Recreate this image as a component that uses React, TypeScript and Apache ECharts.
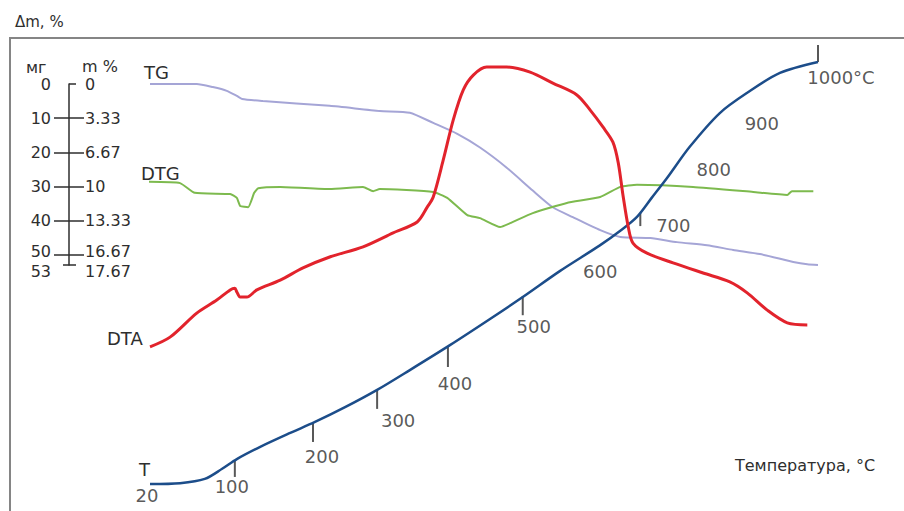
import React, { useEffect, useRef } from "react";
import * as echarts from "echarts";

// ---- Thermogram data (time axis in minutes, 0..100) ----

// TG: mass loss, mg
const TG_TIME = [0, 7.0, 9.4, 11.5, 13.0, 13.8, 16.9, 26.9, 34.4, 38.9, 42.4, 46.0, 49.4, 53.4, 57.3, 60.3, 63.3, 67.4, 70.4, 74.9, 78.9, 83.4, 87.3, 91.3, 96.3, 98.4, 100];
const TG_LOSS_MG = [0, 0, 0.9, 2.0, 3.5, 4.4, 5.0, 6.4, 7.9, 8.4, 11.4, 14.6, 18.6, 24.5, 31.2, 36.1, 39.0, 42.8, 44.8, 45.1, 46.3, 47.2, 48.6, 49.8, 52.1, 52.8, 53];

// DTG: recorder deflection, relative units
const DTG_TIME = [-0.4, 4.5, 6.7, 12.0, 13.0, 13.5, 14.7, 15.6, 16.2, 19.5, 26.9, 31.9, 33.4, 34.4, 42.4, 44.5, 47.5, 49.4, 52.4, 53.9, 57.3, 62.4, 67.4, 70.4, 72.9, 81.3, 90.3, 95.4, 96.1, 99.3];
const DTG_LEVEL = [71.6, 71.3, 69.0, 68.7, 67.8, 65.9, 65.6, 69.0, 70.1, 70.4, 69.9, 70.4, 69.4, 69.9, 69.2, 67.8, 63.7, 63.0, 60.9, 61.8, 64.2, 66.6, 68.0, 70.4, 70.9, 70.4, 69.2, 68.5, 69.4, 69.4];

// DTA: recorder deflection, relative units
const DTA_TIME = [0, 3.0, 7.0, 10.0, 12.0, 12.7, 13.0, 13.5, 14.5, 16.0, 19.5, 22.9, 26.9, 31.9, 36.4, 40.0, 41.5, 42.4, 43.9, 45.4, 46.9, 48.4, 50.4, 53.4, 56.9, 60.3, 63.9, 65.9, 67.8, 69.3, 70.1, 70.8, 71.6, 72.3, 74.4, 78.3, 82.8, 86.8, 89.4, 92.4, 95.4, 98.4];
const DTA_LEVEL = [32.5, 34.8, 40.5, 43.6, 46.0, 46.4, 45.5, 44.3, 44.3, 46.0, 48.3, 51.2, 53.8, 56.2, 59.5, 62.1, 65.6, 68.0, 76.8, 86.3, 93.4, 96.9, 98.8, 98.8, 97.6, 95.0, 92.2, 88.6, 84.6, 81.0, 76.1, 68.5, 60.9, 57.1, 54.7, 52.4, 50.0, 47.9, 45.3, 41.2, 38.2, 37.7];

// T: temperature curve, recorder deflection
const T_TIME = [0, 4.5, 8.2, 10.8, 13.0, 16.5, 21.0, 24.7, 29.2, 34.0, 38.9, 44.9, 50.9, 55.8, 61.4, 67.4, 70.4, 72.9, 75.1, 77.4, 80.8, 85.3, 89.4, 94.3, 100];
const T_LEVEL = [0, 0.2, 1.2, 3.6, 5.9, 8.8, 12.1, 14.7, 18.2, 22.3, 27.0, 32.9, 39.1, 44.3, 50.5, 56.6, 60.0, 63.3, 67.8, 72.5, 79.9, 87.9, 92.7, 97.4, 100];

// Temperature marks along the T curve, °C
const T_MARK_TEMP = [20, 100, 200, 300, 400, 500, 600, 700, 800, 900, 1000];
const T_MARK_TIME = [0, 12.7, 24.4, 34.0, 44.6, 55.8, 68.3, 73.4, 78.7, 86.5, 100];
const T_MARK_LEVEL = [0, 5.7, 14.7, 22.3, 32.7, 44.5, 57.6, 64.2, 76.1, 89.3, 100];

// Mass scale: mg and % of a 300 mg sample
const MASS_STEP_MG = [0, 10, 20, 30, 40];
const MASS_LAST_STEP_MG = 50;
const MASS_CROSS_TICKS_MG = [10, 20, 30, 40, 50];
const MASS_FULL_MG = 53;
const SAMPLE_MG = 300;

// ---- Layout / style ----
const FONT = "DejaVu Sans";
const INK = "#2e2e2e";
const PLOT_LEFT = 150;
const PLOT_WIDTH = 668;
const MARK_TICK_LEN = [0, 17, 20, 19, 21, 19, 0, 13, 0, 0, -17];
const MARK_LABEL_OFFSET = [[-3, 11], [-3, 27], [9, 35], [21, 31], [7, 37], [11, 30], [-6, 31], [33, 12], [38, 7], [34, 16], [23, 15]];

const zip = (a: number[], b: number[]) => a.map((v, i) => [v, b[i]]);

const pct = (mg: number) => {
  const p = (mg / SAMPLE_MG) * 100;
  const r = Math.round(p * 100) / 100;
  return Number.isInteger(r) ? String(r) : r.toFixed(2);
};

const text = (t: string, x: number, y: number, size = 15, align = "left") => ({
  type: "text",
  x,
  y,
  silent: true,
  style: { text: t, fill: INK, fontSize: size, fontFamily: FONT, align, verticalAlign: "middle" },
});

const axisLineStyle = { color: INK, width: 1.5 };

// One layer of the mass scale; all layers share the same position and range.
const massAxis = (tick: any, label: any, showLine = false) => ({
  gridIndex: 1,
  type: "value",
  min: 0,
  max: MASS_FULL_MG,
  inverse: true,
  position: "left",
  offset: 81,
  splitLine: { show: false },
  axisLine: { show: showLine, onZero: false, lineStyle: axisLineStyle },
  axisTick: tick ? { show: true, lineStyle: axisLineStyle, ...tick } : { show: false },
  axisLabel: label
    ? {
        show: true,
        showMinLabel: true,
        showMaxLabel: true,
        color: INK,
        fontSize: 16,
        fontFamily: FONT,
        ...label,
      }
    : { show: false },
});

function buildOption(): any {
  const maxTemp = Math.max(...T_MARK_TEMP);
  const tickData = T_MARK_TEMP.map((_, i) => ({ i, len: MARK_TICK_LEN[i] }))
    .filter((d) => d.len !== 0)
    .map(({ i, len }) => ({
      value: [T_MARK_TIME[i], T_MARK_LEVEL[i]],
      symbol: "rect",
      symbolSize: [2, Math.abs(len)],
      symbolOffset: [0, len / 2],
    }));
  const labelData = T_MARK_TEMP.map((temp, i) => ({
    value: [T_MARK_TIME[i], T_MARK_LEVEL[i], temp],
    label: { offset: MARK_LABEL_OFFSET[i] },
  }));

  const mgText = (v: number) => String(v);
  const outside = { margin: 18, formatter: mgText };
  const inside = { inside: true, margin: 16, formatter: pct };
  // the 50 and 53 marks are close together: lift one text, drop the other
  const lifted = { verticalAlign: "bottom", lineHeight: 6 };
  const dropped = { verticalAlign: "top", lineHeight: 12 };

  return {
    animation: false,
    backgroundColor: "#ffffff",
    grid: [
      { left: PLOT_LEFT, width: PLOT_WIDTH, top: 62, height: 422 },
      { left: PLOT_LEFT, width: PLOT_WIDTH, top: 84, height: 181 },
    ],
    xAxis: [
      { gridIndex: 0, type: "value", min: 0, max: 100, show: false },
      { gridIndex: 1, type: "value", min: 0, max: 100, show: false },
    ],
    yAxis: [
      { gridIndex: 0, type: "value", min: 0, max: 100, show: false },
      // mg side (left) with the scale line
      massAxis({ customValues: MASS_CROSS_TICKS_MG, length: 15 }, { customValues: MASS_STEP_MG, ...outside }, true),
      // % side (right)
      massAxis({ customValues: MASS_CROSS_TICKS_MG, length: 15, inside: true }, { customValues: MASS_STEP_MG, ...inside }),
      // 50 mg mark texts
      massAxis(null, { customValues: [MASS_LAST_STEP_MG], ...outside, ...lifted }),
      massAxis(null, { customValues: [MASS_LAST_STEP_MG], ...inside, ...lifted }),
      // short end ticks and full-scale texts
      massAxis({ customValues: [0, MASS_FULL_MG], length: 7, inside: true }, { customValues: [MASS_FULL_MG], ...inside, ...dropped }),
      massAxis({ customValues: [MASS_FULL_MG], length: 6 }, { customValues: [MASS_FULL_MG], ...outside, ...dropped }),
    ],
    graphic: [
      {
        type: "rect",
        silent: true,
        shape: { x: 10, y: 38, width: 1000, height: 600 },
        style: { fill: "none", stroke: "#858585", lineWidth: 2 },
      },
      text("Δm, %", 15, 22, 15),
      text("мг", 26, 67, 16),
      text("m %", 82, 66, 16),
      text("TG", 144, 72, 18),
      text("DTG", 141, 173, 18),
      text("DTA", 107, 338, 18),
      text("T", 139, 469, 18),
      text("Температура, °C", 735, 465, 16),
    ],
    series: [
      {
        type: "line",
        name: "TG",
        xAxisIndex: 1,
        yAxisIndex: 1,
        data: zip(TG_TIME, TG_LOSS_MG),
        symbol: "none",
        smooth: 0.2,
        clip: false,
        lineStyle: { color: "#a5a5d6", width: 2 },
        silent: true,
      },
      {
        type: "line",
        name: "DTG",
        xAxisIndex: 0,
        yAxisIndex: 0,
        data: zip(DTG_TIME, DTG_LEVEL),
        symbol: "none",
        smooth: 0.15,
        clip: false,
        lineStyle: { color: "#7dba4e", width: 2 },
        silent: true,
      },
      {
        type: "line",
        name: "T",
        xAxisIndex: 0,
        yAxisIndex: 0,
        data: zip(T_TIME, T_LEVEL),
        symbol: "none",
        smooth: 0.3,
        clip: false,
        lineStyle: { color: "#1c4d8a", width: 2.5 },
        silent: true,
      },
      {
        type: "line",
        name: "DTA",
        xAxisIndex: 0,
        yAxisIndex: 0,
        data: zip(DTA_TIME, DTA_LEVEL),
        symbol: "none",
        smooth: 0.3,
        clip: false,
        lineStyle: { color: "#e2232c", width: 3 },
        silent: true,
      },
      {
        type: "scatter",
        name: "T ticks",
        xAxisIndex: 0,
        yAxisIndex: 0,
        data: tickData,
        clip: false,
        itemStyle: { color: INK },
        silent: true,
      },
      {
        type: "scatter",
        name: "T labels",
        xAxisIndex: 0,
        yAxisIndex: 0,
        data: labelData,
        symbolSize: 1,
        clip: false,
        itemStyle: { color: "rgba(0,0,0,0)" },
        silent: true,
        label: {
          show: true,
          position: "inside",
          color: INK,
          fontSize: 18,
          fontFamily: FONT,
          formatter: (p: any) => (p.value[2] === maxTemp ? `${p.value[2]}°C` : String(p.value[2])),
        },
      },
    ],
  };
}

export default function App() {
  const ref = useRef<HTMLDivElement>(null);
  useEffect(() => {
    if (!ref.current) return;
    const chart = echarts.init(ref.current, undefined, { renderer: "svg" });
    chart.setOption(buildOption());
    return () => chart.dispose();
  }, []);
  return (
    <div
      ref={ref}
      style={{ position: "fixed", left: 0, top: 0, width: 904, height: 511, background: "#ffffff" }}
    />
  );
}
